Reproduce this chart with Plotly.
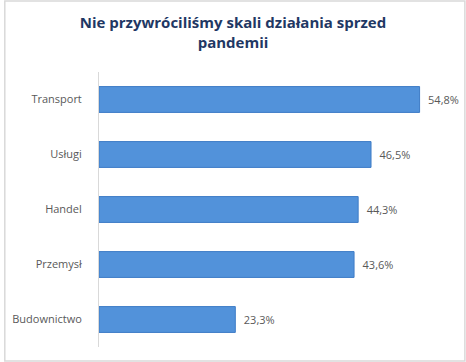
import plotly.graph_objects as go

categories = ["Transport", "Usługi", "Handel", "Przemysł", "Budownictwo"]
values = [54.8, 46.5, 44.3, 43.6, 23.3]
labels = ["\u2002" + f"{v:.1f}".replace(".", ",") + "%" for v in values]
title_text = "Nie przywróciliśmy skali działania sprzed<br>pandemii"

W, H = 466, 362
L, R, T, B = 96, 16, 72, 15
pw, ph = W - L - R, H - T - B

fig = go.Figure(go.Bar(
    x=values, y=categories, orientation="h",
    marker=dict(color="#5292DA", line=dict(color="#3E7CC6", width=1)),
    text=labels, textposition="outside", cliponaxis=False,
    textfont=dict(color="#595959", size=11, family="Open Sans"),
    width=0.47,
))

fig.add_shape(type="rect", xref="paper", yref="paper",
              x0=(1 - L) / pw, x1=(W - 1 - L) / pw,
              y0=(T + ph - (H - 1)) / ph, y1=(T + ph - 1) / ph,
              line=dict(color="#D9D9D9", width=1.5), layer="below")

fig.update_layout(
    width=W, height=H,
    margin=dict(l=L, r=R, t=T, b=B),
    paper_bgcolor="white", plot_bgcolor="white",
    showlegend=False,
    title=dict(text=title_text, x=0.5, xref="container", xanchor="center",
               y=1 - 28 / H, yanchor="top",
               font=dict(family="Open Sans", size=15, color="#1F3864", weight="bold")),
    xaxis=dict(range=[0, 60], visible=False, fixedrange=True),
    yaxis=dict(categoryorder="array", categoryarray=categories[::-1],
               showline=True, linecolor="#D9D9D9", linewidth=1,
               showgrid=False, ticks="", ticklabelstandoff=14,
               tickfont=dict(family="Open Sans", size=11, color="#595959")),
)

fig.write_html("out.html", config={"displayModeBar": False},
               post_script="document.body.style.margin='0';document.body.style.overflow='hidden';")
